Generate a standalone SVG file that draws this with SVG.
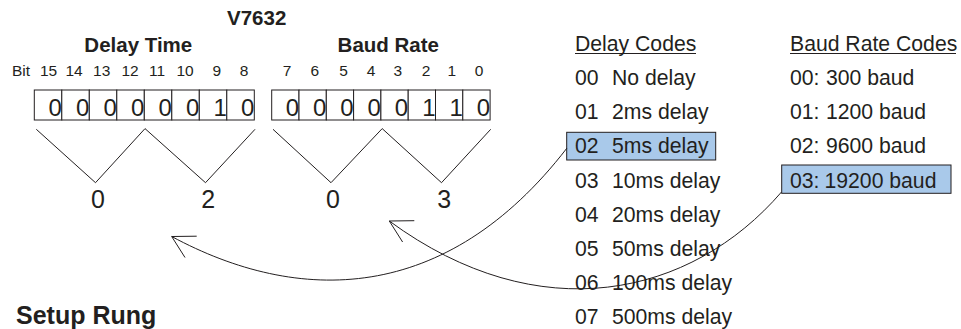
<svg xmlns="http://www.w3.org/2000/svg" xmlns:xlink="http://www.w3.org/1999/xlink" width="961" height="329" viewBox="0 0 961 329">
<style>
text{font-family:"Liberation Sans",Arial,Helvetica,sans-serif;fill:#231f20}
.hdr{font-size:20.5px;font-weight:bold;text-anchor:middle}
.bit{font-size:15.5px;text-anchor:middle}
.cell{fill:#fff;stroke:#231f20;stroke-width:1}
.dig{font-size:24px;text-anchor:end}
.hex{font-size:25px;text-anchor:middle}
.lst{font-size:21.2px}
.ul{stroke:#231f20;stroke-width:1}
.hl{fill:#a9c9ea;stroke:#231f20;stroke-width:1}
.ln{fill:none;stroke:#231f20;stroke-width:1}
</style>
<defs>
<path id="ah" d="M25,-0.3 L0,0 L13.3,21" fill="none" stroke="#231f20" stroke-width="1"/>
</defs>
<rect width="961" height="329" fill="#fff"/>

<g id="titles">
<text class="hdr" x="256.7" y="25">V7632</text>
<text class="hdr" x="138.3" y="52">Delay Time</text>
<text class="hdr" x="388.3" y="52">Baud Rate</text>
</g>

<g id="bits">
<text class="bit" x="21" y="76">Bit</text>
<text class="bit" x="48.5" y="76">15</text>
<text class="bit" x="74" y="76">14</text>
<text class="bit" x="101.7" y="76">13</text>
<text class="bit" x="130" y="76">12</text>
<text class="bit" x="157" y="76">11</text>
<text class="bit" x="185" y="76">10</text>
<text class="bit" x="216.7" y="76">9</text>
<text class="bit" x="244" y="76">8</text>
<text class="bit" x="287" y="76">7</text>
<text class="bit" x="314.7" y="76">6</text>
<text class="bit" x="343.5" y="76">5</text>
<text class="bit" x="371" y="76">4</text>
<text class="bit" x="397.7" y="76">3</text>
<text class="bit" x="426" y="76">2</text>
<text class="bit" x="451.7" y="76">1</text>
<text class="bit" x="479" y="76">0</text>
</g>

<g id="delay-register">
<rect class="cell" x="34.3" y="90" width="27.5" height="30"/>
<rect class="cell" x="61.8" y="90" width="27.5" height="30"/>
<rect class="cell" x="89.3" y="90" width="27.5" height="30"/>
<rect class="cell" x="116.8" y="90" width="27.5" height="30"/>
<rect class="cell" x="144.3" y="90" width="27.5" height="30"/>
<rect class="cell" x="171.8" y="90" width="27.5" height="30"/>
<rect class="cell" x="199.3" y="90" width="27.5" height="30"/>
<rect class="cell" x="226.8" y="90" width="27.5" height="30"/>
<text class="dig" x="61.8" y="115.7">0</text>
<text class="dig" x="89.3" y="115.7">0</text>
<text class="dig" x="116.8" y="115.7">0</text>
<text class="dig" x="144.3" y="115.7">0</text>
<text class="dig" x="171.8" y="115.7">0</text>
<text class="dig" x="199.3" y="115.7">0</text>
<text class="dig" x="226.8" y="115.7">1</text>
<text class="dig" x="254.3" y="115.7">0</text>
</g>

<g id="baud-register">
<rect class="cell" x="271.7" y="90" width="27.3" height="30"/>
<rect class="cell" x="299" y="90" width="27.3" height="30"/>
<rect class="cell" x="326.3" y="90" width="27.3" height="30"/>
<rect class="cell" x="353.6" y="90" width="27.3" height="30"/>
<rect class="cell" x="380.9" y="90" width="27.3" height="30"/>
<rect class="cell" x="408.2" y="90" width="27.3" height="30"/>
<rect class="cell" x="435.5" y="90" width="27.3" height="30"/>
<rect class="cell" x="462.8" y="90" width="27.3" height="30"/>
<text class="dig" x="299" y="115.7">0</text>
<text class="dig" x="326.3" y="115.7">0</text>
<text class="dig" x="353.6" y="115.7">0</text>
<text class="dig" x="380.9" y="115.7">0</text>
<text class="dig" x="408.2" y="115.7">0</text>
<text class="dig" x="435.5" y="115.7">1</text>
<text class="dig" x="462.8" y="115.7">1</text>
<text class="dig" x="490.1" y="115.7">0</text>
</g>

<g id="nibble-braces">
<polyline class="ln" points="36.3,129.3 95.5,182.7 145,128.6 205.5,182.7 255,129.3"/>
<polyline class="ln" points="273,129.3 331,182.7 382.2,128.6 441.5,182.7 490.7,129.3"/>
</g>

<g id="hex-digits">
<text class="hex" x="98" y="208.3">0</text>
<text class="hex" x="208.3" y="208.3">2</text>
<text class="hex" x="333" y="208.3">0</text>
<text class="hex" x="444.3" y="208.3">3</text>
</g>

<g id="delay-codes">
<text class="lst" x="575" y="51">Delay Codes</text>
<line class="ul" x1="575" y1="53.5" x2="696" y2="53.5"/>
<rect class="hl" x="566.7" y="132.3" width="149" height="27.7"/>
<text class="lst" x="575" y="85">00</text><text class="lst" x="612" y="85">No delay</text>
<text class="lst" x="575" y="119.2">01</text><text class="lst" x="612" y="119.2">2ms delay</text>
<text class="lst" x="575" y="153.4">02</text><text class="lst" x="612" y="153.4">5ms delay</text>
<text class="lst" x="575" y="187.6">03</text><text class="lst" x="612" y="187.6">10ms delay</text>
<text class="lst" x="575" y="221.8">04</text><text class="lst" x="612" y="221.8">20ms delay</text>
<text class="lst" x="575" y="256">05</text><text class="lst" x="612" y="256">50ms delay</text>
<text class="lst" x="575" y="290.2">06</text><text class="lst" x="612" y="290.2">100ms delay</text>
<text class="lst" x="575" y="324.2">07</text><text class="lst" x="612" y="324.2">500ms delay</text>
</g>

<g id="baud-codes">
<text class="lst" x="790" y="51">Baud Rate Codes</text>
<line class="ul" x1="790" y1="53.5" x2="956" y2="53.5"/>
<rect class="hl" x="781.7" y="165" width="169.3" height="28.3"/>
<text class="lst" x="790" y="85">00:</text><text class="lst" x="826" y="85">300 baud</text>
<text class="lst" x="790" y="119.2">01:</text><text class="lst" x="826" y="119.2">1200 baud</text>
<text class="lst" x="790" y="153.4">02:</text><text class="lst" x="826" y="153.4">9600 baud</text>
<text class="lst" x="790" y="187.6">03:</text><text class="lst" x="824.5" y="187.6">19200 baud</text>
</g>

<g id="setup-rung">
<text x="16" y="323.5" style="font-size:25px;font-weight:bold">Setup Rung</text>
</g>

<g id="connectors">
<path class="ln" d="M567,148 C445.5,305.5 298,304.5 171.7,236.5"/>
<path class="ln" d="M781.5,192 C691,297 539,331 389.3,221"/>
<use xlink:href="#ah" x="171.7" y="236.5"/>
<use xlink:href="#ah" x="389.3" y="221"/>
</g>
</svg>
